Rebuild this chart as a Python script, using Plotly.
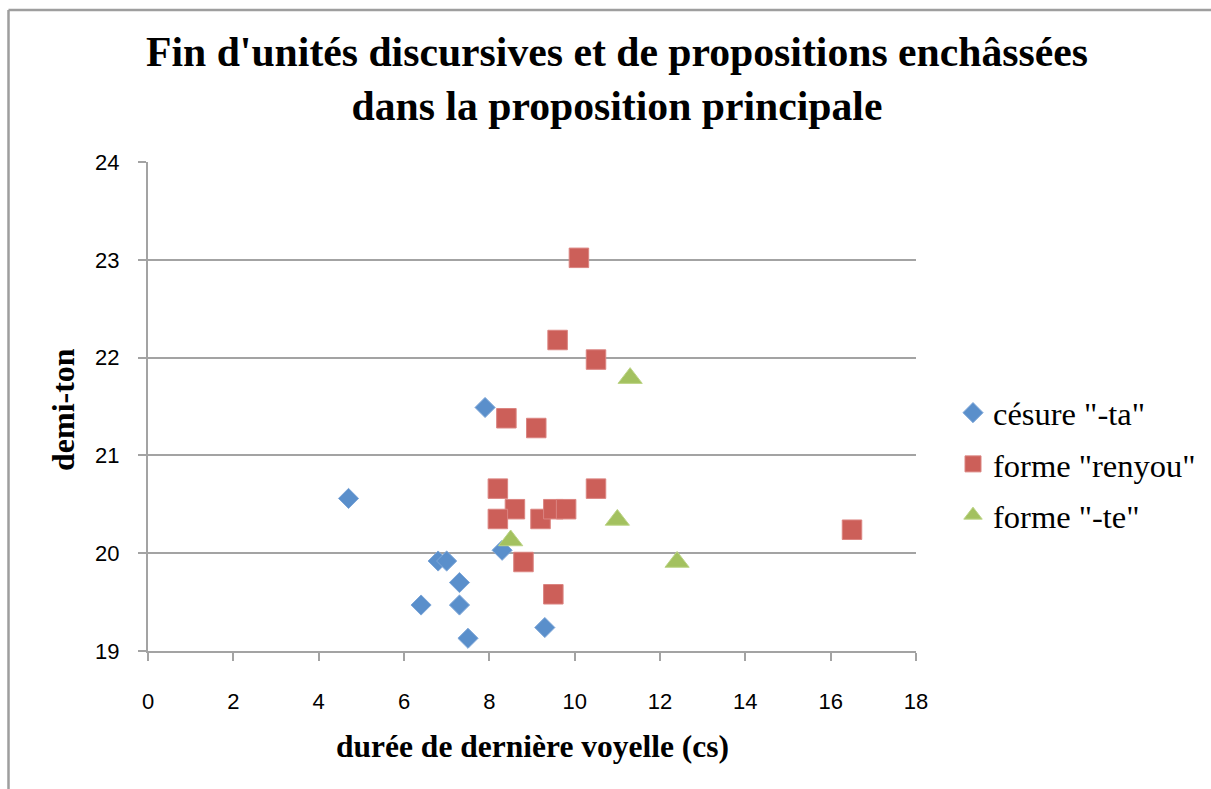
import plotly.graph_objects as go

# durée de la dernière voyelle (cs) / hauteur (demi-ton)
cesure_ta_x = [7.9, 4.7, 8.3, 6.8, 7.0, 7.3, 6.4, 7.3, 7.5, 9.3]
cesure_ta_y = [21.49, 20.56, 20.03, 19.92, 19.92, 19.70, 19.47, 19.47, 19.13, 19.24]

renyou_x = [10.1, 9.6, 10.5, 8.4, 9.1, 8.2, 10.5, 8.6, 8.2, 9.2, 9.5, 9.8, 8.8, 9.5, 16.5]
renyou_y = [23.02, 22.18, 21.98, 21.38, 21.28, 20.66, 20.66, 20.45, 20.35, 20.35,
            20.45, 20.45, 19.91, 19.58, 20.24]

te_x = [11.3, 11.0, 8.5, 12.4]
te_y = [21.79, 20.34, 20.13, 19.91]

x_ticks = [0, 2, 4, 6, 8, 10, 12, 14, 16, 18]
y_ticks = [19, 20, 21, 22, 23, 24]

BLUE = "#5A8FCB"
RED = "#CC5F59"
GREEN = "#A3C15F"
GRID = "#A3A3A3"

W, H = 1211, 789
ML, MR, MT, MB = 148, 295, 162, 138
PW, PH = W - ML - MR, H - MT - MB


def px_x(px):
    return (px - ML) / PW


def px_y(py):
    return (H - MB - py) / PH


fig = go.Figure()
fig.add_trace(go.Scatter(
    x=cesure_ta_x, y=cesure_ta_y, mode="markers", name='césure "-ta"',
    legendgroup="a",
    marker=dict(symbol="diamond", size=15.5, color=BLUE,
                line=dict(color="#7DA6D8", width=1)),
))
fig.add_trace(go.Scatter(
    x=renyou_x, y=renyou_y, mode="markers", name='forme "renyou"',
    legendgroup="b",
    marker=dict(symbol="square", size=19.5, color=RED,
                line=dict(color="#DB8480", width=1)),
))
fig.add_trace(go.Scatter(
    x=te_x, y=te_y, mode="markers", name='forme "-te"',
    legendgroup="c",
    marker=dict(symbol="triangle-up", size=21, color=GREEN,
                line=dict(color="#BCD486", width=1)),
))

# chart frame (top and left edges)
fig.add_shape(type="line", xref="paper", yref="paper",
              x0=px_x(8.5), x1=px_x(8.5), y0=px_y(789), y1=px_y(10),
              line=dict(color="#9E9E9E", width=2.5))
fig.add_shape(type="line", xref="paper", yref="paper",
              x0=px_x(8.5), x1=px_x(1211), y0=px_y(10), y1=px_y(10),
              line=dict(color="#9E9E9E", width=2.5))

# axis titles
fig.add_annotation(text="<b>durée de dernière voyelle (cs)</b>",
                   xref="paper", yref="paper", x=px_x(532), y=px_y(746),
                   showarrow=False, xanchor="center", yanchor="middle",
                   font=dict(family="Liberation Serif", size=31.5, color="black"))
fig.add_annotation(text="<b>demi-ton</b>", textangle=-90,
                   xref="paper", yref="paper", x=px_x(63), y=px_y(410),
                   showarrow=False, xanchor="center", yanchor="middle",
                   font=dict(family="Liberation Serif", size=32, color="black"))

fig.update_layout(
    width=W, height=H,
    margin=dict(l=ML, r=MR, t=MT, b=MB, autoexpand=False),
    paper_bgcolor="white", plot_bgcolor="white",
    title=dict(
        text="<b>Fin d'unités discursives et de propositions enchâssées<br>"
             "dans la proposition principale</b>",
        x=617 / W, xanchor="center", xref="container",
        y=1 - 66 / H, yanchor="middle", yref="container",
        font=dict(family="Liberation Serif", size=41.7, color="black"),
    ),
    showlegend=True,
    legend=dict(
        x=px_x(953), y=px_y(385), xanchor="left", yanchor="top",
        font=dict(family="Liberation Serif", size=32.5, color="black"),
        tracegroupgap=6, bgcolor="rgba(0,0,0,0)", borderwidth=0,
        itemsizing="trace",
    ),
    xaxis=dict(
        range=[0, 18], tickvals=x_ticks, ticktext=[str(v) for v in x_ticks],
        showgrid=False, zeroline=False,
        showline=True, linecolor=GRID, linewidth=2,
        ticks="outside", ticklen=8, tickwidth=2, tickcolor=GRID,
        ticklabelstandoff=22,
        tickfont=dict(family="Liberation Sans", size=22, color="black"),
    ),
    yaxis=dict(
        range=[19, 24], tickvals=y_ticks, ticktext=[str(v) for v in y_ticks],
        showgrid=True, gridcolor=GRID, gridwidth=2, zeroline=False,
        showline=True, linecolor=GRID, linewidth=2,
        ticks="outside", ticklen=8, tickwidth=2, tickcolor=GRID,
        ticklabelstandoff=14,
        tickfont=dict(family="Liberation Sans", size=22, color="black"),
    ),
)

fig.write_html("out.html")
